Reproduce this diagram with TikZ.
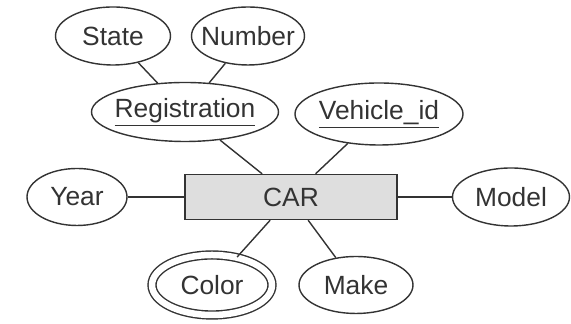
\documentclass[tikz,border=0pt]{standalone}
\usepackage{fontspec}
\setmainfont{Liberation Sans}
\usepackage{xcolor}
\usetikzlibrary{shapes.geometric}
\definecolor{ink}{HTML}{333333}
\definecolor{boxfill}{HTML}{DEDEDE}

\begin{document}
\begin{tikzpicture}[
      attr/.style={draw=ink, ellipse, line width=0.8pt, inner sep=0pt,
                   minimum height=1.16cm, label={[font=\fontsize{15}{18}\selectfont, text=ink]center:#1}},
      ent/.style={draw=ink, fill=boxfill, line width=0.8pt, inner sep=0pt,
                  minimum width=4.24cm, minimum height=0.9cm, font=\fontsize{15}{18}\selectfont, text=ink},
      ln/.style={ink, line width=0.8pt}
    ]
    \useasboundingbox (0,0) rectangle (11.42,6.48);

    \node[attr=State,  minimum width=2.30cm] (state)  at (2.26,5.76) {};
    \node[attr=Number, minimum width=2.26cm] (number) at (4.96,5.76) {};
    \node[attr=\underline{Registration}, minimum width=3.74cm, minimum height=1.18cm] (reg) at (3.70,4.24) {};
    \node[attr=\underline{Vehicle\_id},  minimum width=3.36cm, minimum height=1.24cm] (vid) at (7.58,4.20) {};

    \node[ent] (car) at (5.82,2.54) {CAR};
    \node[attr=Year,  minimum width=2.00cm, minimum height=1.14cm] (year)  at (1.54,2.54) {};
    \node[attr=Model, minimum width=2.34cm] (model) at (10.22,2.54) {};

    \node[attr=Color, double, double distance=1.3mm, minimum width=2.40cm, minimum height=1.20cm] (color) at (4.24,0.78) {};
    \node[attr=Make,  minimum width=2.28cm, minimum height=1.14cm] (make) at (7.12,0.78) {};

    \draw[ln] (state) -- (reg);
    \draw[ln] (number) -- (reg);
    \draw[ln] (reg) -- (car);
    \draw[ln] (vid) -- (car);
    \draw[ln] (year) -- (car);
    \draw[ln] (car) -- (model);
    \draw[ln] (car) -- (color);
    \draw[ln] (car) -- (make);
  \end{tikzpicture}
\end{document}
